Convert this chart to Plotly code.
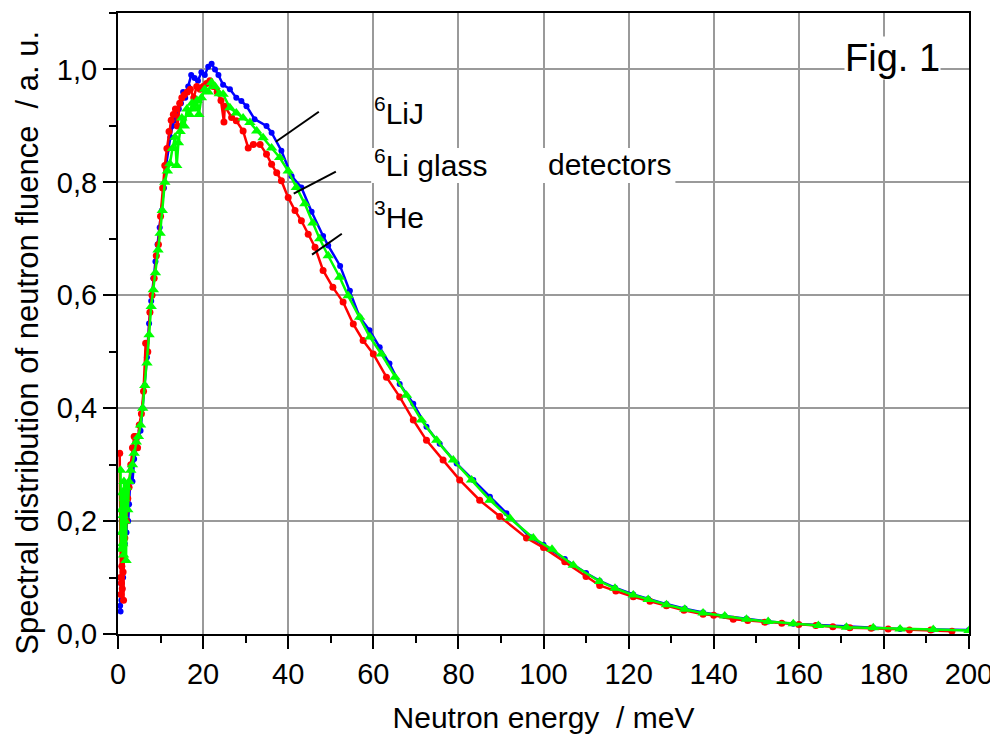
import plotly.graph_objects as go

# ---------------- data ----------------
e_lij = [0.5, 0.6, 0.7, 0.8, 0.9, 1.0, 1.1, 1.2, 1.3, 1.4, 1.5, 1.6, 1.8, 2.0, 2.2, 2.4, 2.6, 3.0, 3.4, 3.8,
         4.3, 4.8, 5.3, 5.8, 6.3, 6.8, 7.3, 7.8, 8.3, 8.8, 9.3, 9.8, 10.3, 10.8, 11.3, 11.8, 12.3, 12.8,
         13.3, 13.8, 14.3, 14.8, 15.3, 15.8, 16.5, 17.2, 18.0, 18.8, 19.6, 20.4, 21.2, 22.0, 22.8, 23.6,
         24.7, 26.3, 27.8, 29.0, 30.2, 32.1, 34.9, 36.1, 38.4, 40.8, 43.1, 45.5, 48.2, 49.4, 52.2, 54.5,
         56.8, 59.1, 61.5, 63.8, 66.2, 69.4, 72.5, 75.6, 79.6, 83.5, 87.4, 91.3, 96.8, 100, 105, 110, 113.2,
         116.8, 121.1, 124.6, 128.9, 133.2, 137.5, 142.6, 147.7, 152.8, 158.7, 164.6, 171.2, 177.5, 183.8,
         191.6, 200, 201.8]
y_lij = [0.05, 0.04, 0.09, 0.06, 0.12, 0.08, 0.17, 0.10, 0.19, 0.14, 0.21, 0.16, 0.22, 0.18, 0.24, 0.20, 0.23,
         0.29, 0.27, 0.31, 0.33, 0.35, 0.36, 0.40, 0.44, 0.49, 0.55, 0.59, 0.63, 0.66, 0.69, 0.72, 0.75, 0.79,
         0.83, 0.86, 0.88, 0.90, 0.91, 0.92, 0.93, 0.94, 0.96, 0.95, 0.97, 0.99, 0.985, 0.98, 0.995, 0.99,
         1.005, 1.01, 1.0, 0.99, 0.973, 0.965, 0.95, 0.944, 0.935, 0.912, 0.90, 0.888, 0.856, 0.811, 0.791,
         0.748, 0.705, 0.688, 0.652, 0.608, 0.561, 0.538, 0.508, 0.479, 0.443, 0.408, 0.367, 0.337, 0.302,
         0.273, 0.243, 0.214, 0.172, 0.158, 0.133, 0.108, 0.094, 0.082, 0.070, 0.062, 0.053, 0.045, 0.038,
         0.032, 0.027, 0.022, 0.018, 0.016, 0.013, 0.011, 0.009, 0.008, 0.007, 0.007]

e_he3 = [0.4, 0.6, 0.7, 0.8, 0.9, 1.0, 1.1, 1.2, 1.3, 1.4, 1.6, 1.8, 2.0, 2.3, 2.6, 3.0, 3.4, 3.8, 4.1, 4.6,
         5.0, 5.5, 6.0, 6.5, 7.0, 7.5, 8.0, 8.5, 9.0, 9.5, 10.0, 10.5, 11.0, 11.5, 12.0, 12.5, 13.0, 13.5,
         14.0, 14.5, 15.0, 15.6, 16.3, 17.0, 17.8, 18.5, 19.3, 20.0, 20.8, 21.6, 22.4, 23.3, 24.2, 24.9,
         25.1, 26.7, 27.8, 29.4, 30.6, 31.8, 33.4, 34.9, 36.1, 37.3, 38.4, 40.0, 41.6, 43.1, 44.7, 46.3,
         48.2, 50.5, 52.9, 55.3, 57.6, 60.0, 63.1, 66.2, 69.4, 72.5, 76.4, 80.3, 85.0, 89.7, 96.0, 100, 105,
         110, 113.2, 117, 121.1, 125, 128.9, 133, 137.5, 140, 144.6, 148, 152, 156, 160, 164, 168, 172, 177,
         181, 186, 191, 196]
y_he3 = [0.32, 0.10, 0.07, 0.09, 0.12, 0.08, 0.15, 0.11, 0.06, 0.19, 0.17, 0.22, 0.20, 0.24, 0.26, 0.30, 0.33,
         0.35, 0.35, 0.33, 0.37, 0.39, 0.43, 0.515, 0.50, 0.57, 0.60, 0.63, 0.67, 0.69, 0.74, 0.79, 0.83,
         0.86, 0.89, 0.91, 0.92, 0.93, 0.90, 0.94, 0.95, 0.955, 0.96, 0.965, 0.95, 0.97, 0.965, 0.97, 0.975,
         0.98, 0.97, 0.96, 0.945, 0.907, 0.935, 0.915, 0.909, 0.891, 0.861, 0.867, 0.867, 0.850, 0.832,
         0.817, 0.803, 0.773, 0.750, 0.732, 0.708, 0.685, 0.644, 0.614, 0.588, 0.549, 0.520, 0.496, 0.455,
         0.420, 0.379, 0.343, 0.308, 0.273, 0.237, 0.208, 0.170, 0.153, 0.128, 0.102, 0.086, 0.076, 0.066,
         0.058, 0.050, 0.042, 0.035, 0.033, 0.026, 0.024, 0.021, 0.019, 0.017, 0.015, 0.013, 0.011, 0.010,
         0.009, 0.007, 0.007, 0.005]

e_glass = [0.6, 0.7, 0.8, 0.9, 1.0, 1.1, 1.2, 1.3, 1.4, 1.5, 1.7, 1.9, 2.0, 2.3, 2.6, 3.0, 3.4, 3.8, 4.3, 4.8,
           5.3, 5.8, 6.3, 6.8, 7.3, 7.8, 8.3, 8.8, 9.4, 9.9, 10.4, 11.0, 11.6, 12.2, 12.8, 13.4, 13.8,
           14.2, 14.6, 15.0, 15.6, 16.2, 16.8, 17.4, 18.0, 18.6, 19.0, 19.6, 20.4, 21.2, 22.0, 22.8, 23.8,
           24.7, 26.3, 27.8, 29.4, 31.0, 32.6, 34.1, 36.1, 38.0, 40.0, 41.9, 43.9, 45.8, 47.4, 49.4, 52.1,
           54.1, 56.8, 59.2, 61.9, 65.1, 67.8, 71.3, 74.9, 78.8, 83.1, 87.4, 92.1, 97.6, 102, 107, 113.2,
           116.8, 121.1, 124.6, 128.9, 133.2, 137.5, 142.6, 147.7, 152.8, 158.7, 164.6, 171.2, 177.5, 183.8,
           191.6, 200]
y_glass = [0.29, 0.15, 0.22, 0.18, 0.25, 0.16, 0.21, 0.14, 0.27, 0.24, 0.20, 0.13, 0.26, 0.22, 0.27, 0.29,
           0.30, 0.32, 0.34, 0.35, 0.37, 0.40, 0.44, 0.48, 0.53, 0.58, 0.61, 0.64, 0.68, 0.71, 0.75, 0.80,
           0.82, 0.833, 0.86, 0.88, 0.83, 0.87, 0.89, 0.914, 0.90, 0.93, 0.92, 0.94, 0.93, 0.945, 0.92, 0.95,
           0.965, 0.96, 0.977, 0.97, 0.957, 0.956, 0.932, 0.923, 0.914, 0.906, 0.891, 0.879, 0.861, 0.844,
           0.820, 0.791, 0.762, 0.728, 0.700, 0.670, 0.632, 0.599, 0.561, 0.526, 0.496, 0.455, 0.423, 0.379,
           0.343, 0.308, 0.273, 0.237, 0.205, 0.170, 0.150, 0.122, 0.093, 0.081, 0.069, 0.061, 0.052, 0.044,
           0.037, 0.032, 0.026, 0.022, 0.018, 0.015, 0.012, 0.011, 0.009, 0.008, 0.006]

x_ticks = [0, 20, 40, 60, 80, 100, 120, 140, 160, 180, 200]
y_ticks = [0.0, 0.2, 0.4, 0.6, 0.8, 1.0]

FONT = "Liberation Sans, Arial, sans-serif"

fig = go.Figure()
fig.add_trace(go.Scatter(x=e_lij, y=y_lij, mode="lines+markers", name="6LiJ",
                         line=dict(color="#0000ff", width=2.5),
                         marker=dict(symbol="circle", size=6, color="#0000ff")))
fig.add_trace(go.Scatter(x=e_he3, y=y_he3, mode="lines+markers", name="3He",
                         line=dict(color="#ff0000", width=2.5),
                         marker=dict(symbol="circle", size=7, color="#ff0000")))
fig.add_trace(go.Scatter(x=e_glass, y=y_glass, mode="lines+markers", name="6Li glass",
                         line=dict(color="#00ff00", width=2.5),
                         marker=dict(symbol="triangle-up", size=10, color="#00ff00")))

# white box behind the "6Li glass   detectors" label (covers grid)
fig.add_shape(type="rect", xref="x", yref="y", x0=59.5, x1=131, y0=0.799, y1=0.861,
              fillcolor="white", line=dict(width=0), layer="between")

# pointer lines
for (xa, ya, xb, yb) in [(37.1, 0.872, 47.2, 0.925), (41.3, 0.780, 51.2, 0.819), (45.6, 0.672, 52.6, 0.709)]:
    fig.add_shape(type="line", xref="x", yref="y", x0=xa, y0=ya, x1=xb, y1=yb,
                  line=dict(color="black", width=2), layer="above")

lab_font = dict(family=FONT, size=30, color="black")
fig.add_annotation(x=59.6, y=0.926, xref="x", yref="y", text="<sup>6</sup>LiJ", showarrow=False,
                   xanchor="left", yanchor="middle", font=lab_font)
fig.add_annotation(x=59.6, y=0.834, xref="x", yref="y", text="<sup>6</sup>Li glass", showarrow=False,
                   xanchor="left", yanchor="middle", font=lab_font)
fig.add_annotation(x=100.7, y=0.831, xref="x", yref="y", text="detectors", showarrow=False,
                   xanchor="left", yanchor="middle", font=lab_font)
fig.add_annotation(x=59.6, y=0.743, xref="x", yref="y", text="<sup>3</sup>He", showarrow=False,
                   xanchor="left", yanchor="middle", font=lab_font)
fig.add_annotation(x=182.1, y=1.021, xref="x", yref="y", text="Fig. 1", showarrow=False,
                   xanchor="center", yanchor="middle", bgcolor="white", borderpad=0,
                   font=dict(family=FONT, size=38, color="black"))

# y-axis title (placed as a rotated annotation to match the reference position)
fig.add_annotation(x=-0.1058, y=0.516, xref="paper", yref="y", textangle=-90,
                   text="Spectral distribution of neutron fluence\u00a0\u00a0/ a. u.", showarrow=False,
                   xanchor="center", yanchor="middle",
                   font=dict(family=FONT, size=31, color="black"))

axis_common = dict(showline=True, linecolor="black", linewidth=2, mirror=True,
                   ticks="outside", ticklen=13, tickwidth=2, tickcolor="black",
                   showgrid=True, gridcolor="#9a9a9a", gridwidth=2, zeroline=False,
                   ticklabeloverflow="allow",
                   tickfont=dict(family=FONT, size=29, color="black"))

fig.update_xaxes(range=[0, 200], tickvals=x_ticks,
                 minor=dict(dtick=10, tick0=0, ticks="outside", ticklen=7, tickwidth=2,
                            tickcolor="black", showgrid=False),
                 title=dict(text="Neutron energy\u00a0\u00a0/ meV", standoff=18,
                            font=dict(family=FONT, size=30, color="black")),
                 **axis_common)
fig.update_yaxes(range=[0, 1.1], tickvals=y_ticks, tickformat=".1f",
                 minor=dict(dtick=0.1, tick0=0, ticks="outside", ticklen=7, tickwidth=2,
                            tickcolor="black", showgrid=False),
                 **axis_common)

# the page body adds an 8px margin, so the figure is offset-compensated
fig.update_layout(width=990, height=729, margin=dict(l=110, r=29, t=5, b=103, autoexpand=False),
                  paper_bgcolor="white", plot_bgcolor="white", showlegend=False,
                  separators=",.", font=dict(family=FONT, color="black"))

fig.write_html("out.html")
